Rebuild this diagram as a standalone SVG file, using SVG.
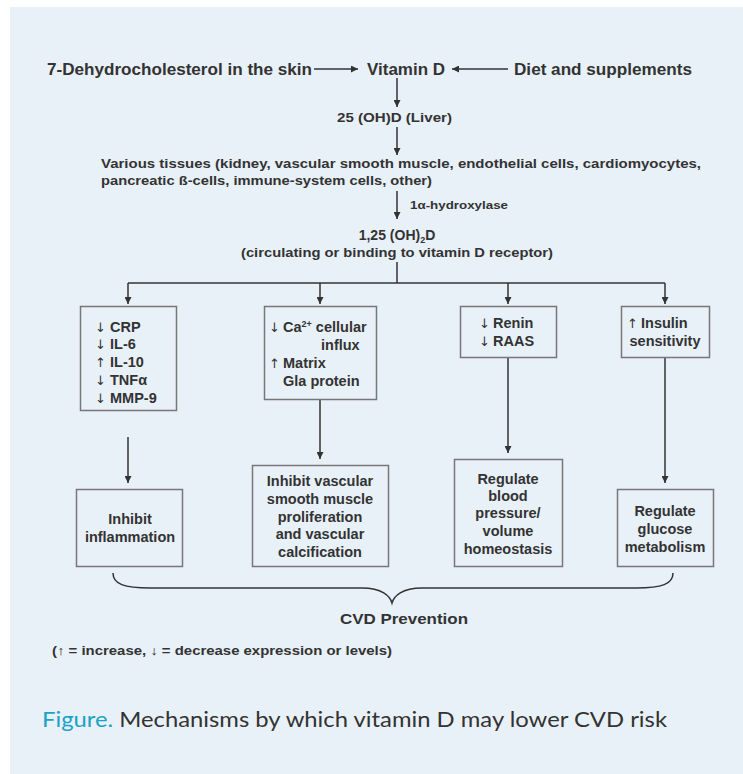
<svg xmlns="http://www.w3.org/2000/svg" width="743" height="774" viewBox="0 0 743 774">
<defs>
<style>
.t{font-family:"Liberation Sans",Arial,sans-serif;font-weight:bold;fill:#333;}
.c{text-anchor:middle;}
.a{font-family:"DejaVu Sans",sans-serif;font-weight:normal;font-size:13px;fill:#333;}
.box{fill:#e8f0f8;stroke:#777;stroke-width:1.5;}
.ln{fill:none;stroke:#333;stroke-width:1.5;}
.cap{font-family:Lato,"Open Sans",sans-serif;font-size:22px;fill:#333;}
</style>
<marker id="ah" markerUnits="userSpaceOnUse" markerWidth="8" markerHeight="7" refX="7" refY="3.5" orient="auto">
<path d="M0,0 L7,3.5 L0,7 z" fill="#333"/>
</marker>
</defs>
<rect x="0" y="0" width="743" height="774" fill="#ffffff"/>
<rect x="10" y="7" width="733" height="767" fill="#e8f0f8"/>

<g id="connectors">
<line class="ln" x1="314" y1="69" x2="358" y2="69" marker-end="url(#ah)"/>
<line class="ln" x1="508" y1="69" x2="452" y2="69" marker-end="url(#ah)"/>
<line class="ln" x1="397" y1="78" x2="397" y2="107" marker-end="url(#ah)"/>
<line class="ln" x1="397" y1="127" x2="397" y2="155" marker-end="url(#ah)"/>
<line class="ln" x1="397" y1="191" x2="397" y2="219" marker-end="url(#ah)"/>
<line class="ln" x1="397" y1="262" x2="397" y2="283"/>
<line class="ln" x1="128" y1="283" x2="665" y2="283"/>
<line class="ln" x1="128" y1="283" x2="128" y2="304" marker-end="url(#ah)"/>
<line class="ln" x1="320" y1="283" x2="320" y2="304" marker-end="url(#ah)"/>
<line class="ln" x1="508" y1="283" x2="508" y2="304" marker-end="url(#ah)"/>
<line class="ln" x1="665" y1="283" x2="665" y2="304" marker-end="url(#ah)"/>
<line class="ln" x1="128" y1="437" x2="128" y2="483" marker-end="url(#ah)"/>
<line class="ln" x1="320" y1="399" x2="320" y2="459" marker-end="url(#ah)"/>
<line class="ln" x1="508" y1="357" x2="508" y2="453" marker-end="url(#ah)"/>
<line class="ln" x1="665" y1="357" x2="665" y2="483" marker-end="url(#ah)"/>
<path class="ln" d="M113,573 C113,584 124,588 150,588 L362,588 C382,588 390,596 392,603 C394,596 402,588 422,588 L636,588 C662,588 673,584 673,573"/>
</g>

<g id="skin"><text class="t" x="47" y="75" font-size="16" textLength="265" lengthAdjust="spacingAndGlyphs">7-Dehydrocholesterol in the skin</text></g>
<g id="vitd"><text class="t" x="367" y="75" font-size="16" textLength="78" lengthAdjust="spacingAndGlyphs">Vitamin D</text></g>
<g id="diet"><text class="t" x="514" y="75" font-size="16" textLength="178" lengthAdjust="spacingAndGlyphs">Diet and supplements</text></g>
<g id="liver"><text class="t" x="337" y="122" font-size="13.5" textLength="115" lengthAdjust="spacingAndGlyphs">25 (OH)D  (Liver)</text></g>
<g id="tissues">
<text class="t" x="101" y="168" font-size="13.5" textLength="600" lengthAdjust="spacingAndGlyphs">Various tissues (kidney, vascular smooth muscle, endothelial cells, cardiomyocytes,</text>
<text class="t" x="101" y="185" font-size="13.5" textLength="331" lengthAdjust="spacingAndGlyphs">pancreatic ß-cells, immune-system cells, other)</text>
</g>
<g id="hydroxylase"><text class="t" x="410" y="209" font-size="11.5" textLength="98" lengthAdjust="spacingAndGlyphs">1α-hydroxylase</text></g>
<g id="calcitriol">
<text class="t c" x="397" y="240" font-size="14">1,25 (OH)<tspan font-size="9" dy="3">2</tspan><tspan dy="-3">D</tspan></text>
<text class="t" x="241" y="257" font-size="13.5" textLength="312" lengthAdjust="spacingAndGlyphs">(circulating or binding to vitamin D receptor)</text>
</g>

<g id="box1">
<rect class="box" x="80.5" y="306.5" width="96" height="104"/>
<text class="t" font-size="14.5"><tspan class="a" x="95" y="332">↓</tspan><tspan x="110" y="332">CRP</tspan><tspan class="a" x="95" y="349">↓</tspan><tspan x="110" y="349">IL-6</tspan><tspan class="a" x="95" y="367">↑</tspan><tspan x="110" y="367">IL-10</tspan><tspan class="a" x="95" y="385">↓</tspan><tspan x="110" y="385">TNFα</tspan><tspan class="a" x="95" y="403">↓</tspan><tspan x="110" y="403">MMP-9</tspan></text>
</g>
<g id="box2">
<rect class="box" x="264.5" y="306.5" width="112" height="93"/>
<text class="t" font-size="14.5"><tspan class="a" x="269" y="332">↓</tspan><tspan x="283" y="332">Ca</tspan><tspan font-size="9" dy="-5">2+</tspan><tspan dy="5"> cellular</tspan><tspan x="321" y="350">influx</tspan><tspan class="a" x="269" y="368">↑</tspan><tspan x="283" y="368">Matrix</tspan><tspan x="283" y="386">Gla protein</tspan></text>
</g>
<g id="box3">
<rect class="box" x="460.5" y="306.5" width="96" height="51"/>
<text class="t" font-size="14.5"><tspan class="a" x="479" y="328">↓</tspan><tspan x="493" y="328">Renin</tspan><tspan class="a" x="479" y="346">↓</tspan><tspan x="493" y="346">RAAS</tspan></text>
</g>
<g id="box4">
<rect class="box" x="621.5" y="306.5" width="88" height="51"/>
<text class="t" font-size="14.5"><tspan class="a" x="627" y="328">↑</tspan><tspan x="641" y="328">Insulin</tspan></text>
<text class="t c" x="665" y="346" font-size="14.5">sensitivity</text>
</g>
<g id="box5">
<rect class="box" x="76.5" y="489.5" width="106" height="77"/>
<text class="t c" font-size="14.5"><tspan x="130" y="524">Inhibit</tspan><tspan x="130" y="542">inflammation</tspan></text>
</g>
<g id="box6">
<rect class="box" x="252.5" y="465.5" width="136" height="101"/>
<text class="t c" font-size="14.5"><tspan x="320" y="486">Inhibit vascular</tspan><tspan x="320" y="504">smooth muscle</tspan><tspan x="320" y="522">proliferation</tspan><tspan x="320" y="539">and vascular</tspan><tspan x="320" y="557">calcification</tspan></text>
</g>
<g id="box7">
<rect class="box" x="454.5" y="459.5" width="108" height="107"/>
<text class="t c" font-size="14.5"><tspan x="508" y="484">Regulate</tspan><tspan x="508" y="501">blood</tspan><tspan x="508" y="518">pressure/</tspan><tspan x="508" y="536">volume</tspan><tspan x="508" y="554">homeostasis</tspan></text>
</g>
<g id="box8">
<rect class="box" x="617.5" y="489.5" width="96" height="77"/>
<text class="t c" font-size="14.5"><tspan x="665" y="516">Regulate</tspan><tspan x="665" y="534">glucose</tspan><tspan x="665" y="552">metabolism</tspan></text>
</g>
<g id="cvd"><text class="t" x="340" y="624" font-size="15" textLength="128" lengthAdjust="spacingAndGlyphs">CVD Prevention</text></g>
<g id="legend"><text class="t" x="52" y="655" font-size="12.5" textLength="340" lengthAdjust="spacingAndGlyphs">(↑ = increase, ↓ = decrease expression or levels)</text></g>
<g id="caption"><text class="cap" x="42" y="727" textLength="625" lengthAdjust="spacingAndGlyphs"><tspan fill="#1ba3c6">Figure.</tspan> Mechanisms by which vitamin D may lower CVD risk</text></g>
</svg>
